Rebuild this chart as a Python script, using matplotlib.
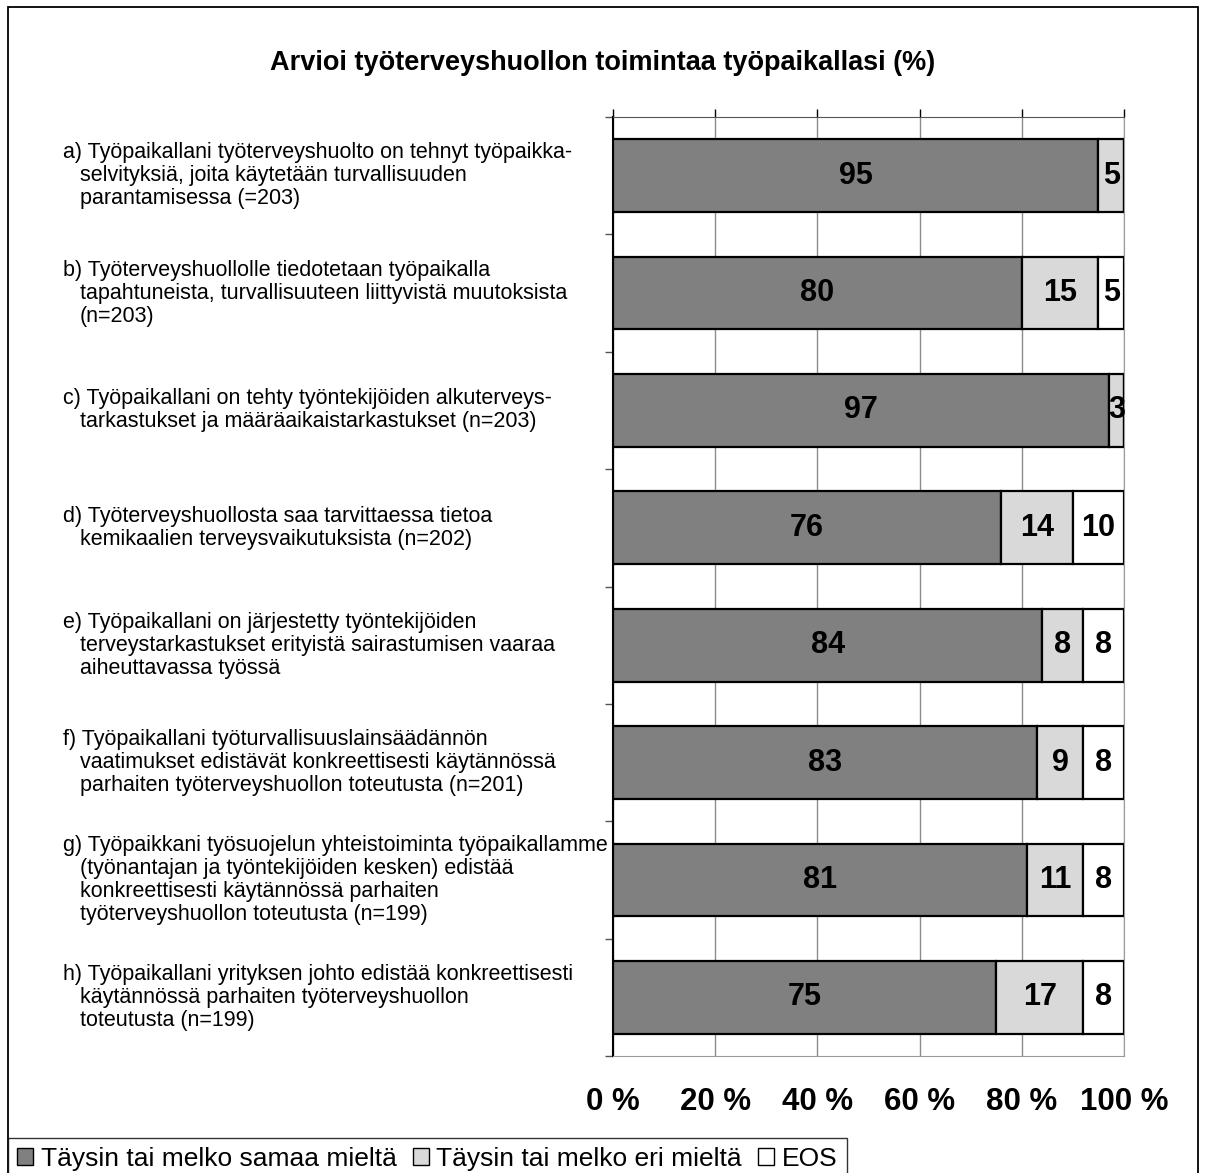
import matplotlib
matplotlib.use("Agg")
import matplotlib.pyplot as plt
from matplotlib.patches import Rectangle, Patch

plt.rcParams['font.family'] = ['Liberation Sans', 'DejaVu Sans']

# data
labels = [
    ["a) Työpaikallani työterveyshuolto on tehnyt työpaikka-",
     "selvityksiä, joita käytetään turvallisuuden",
     "parantamisessa (=203)"],
    ["b) Työterveyshuollolle tiedotetaan työpaikalla",
     "tapahtuneista, turvallisuuteen liittyvistä muutoksista",
     "(n=203)"],
    ["c) Työpaikallani on tehty työntekijöiden alkuterveys-",
     "tarkastukset ja määräaikaistarkastukset (n=203)"],
    ["d) Työterveyshuollosta saa tarvittaessa tietoa",
     "kemikaalien terveysvaikutuksista (n=202)"],
    ["e) Työpaikallani on järjestetty työntekijöiden",
     "terveystarkastukset erityistä sairastumisen vaaraa",
     "aiheuttavassa työssä"],
    ["f) Työpaikallani työturvallisuuslainsäädännön",
     "vaatimukset edistävät konkreettisesti käytännössä",
     "parhaiten työterveyshuollon toteutusta (n=201)"],
    ["g) Työpaikkani työsuojelun yhteistoiminta työpaikallamme",
     "(työnantajan ja työntekijöiden kesken) edistää",
     "konkreettisesti käytännössä parhaiten",
     "työterveyshuollon toteutusta (n=199)"],
    ["h) Työpaikallani yrityksen johto edistää konkreettisesti",
     "käytännössä parhaiten työterveyshuollon",
     "toteutusta (n=199)"],
]
agree = [95, 80, 97, 76, 84, 83, 81, 75]
disagree = [5, 15, 3, 14, 8, 9, 11, 17]
eos = [0, 5, 0, 10, 8, 8, 8, 8]
series_names = ["Täysin tai melko samaa mieltä", "Täysin tai melko eri mieltä", "EOS"]
colors = ["#808080", "#d9d9d9", "#ffffff"]
xticks = [0, 20, 40, 60, 80, 100]

W, H = 1207, 1173
fig = plt.figure(figsize=(W / 100, H / 100), dpi=100)

def fx(px):
    return px / W

def fy(py):
    return 1 - py / H

# outer frame
fig.patches.append(Rectangle((fx(8), fy(1190)), fx(1198) - fx(8), fy(7) - fy(1190),
                             transform=fig.transFigure, fill=False, edgecolor='black', lw=1.3))

ax = fig.add_axes([fx(613), fy(1056), fx(1124) - fx(613), fy(117) - fy(1056)])

n = len(agree)
ypos = list(range(n))
series = [agree, disagree, eos]
left = [0] * n
for vals, col in zip(series, colors):
    ax.barh(ypos, vals, left=left, height=0.62, color=col, edgecolor='black', lw=1.6, zorder=3)
    for i, v in enumerate(vals):
        if v > 0:
            ax.text(left[i] + v / 2, i, str(v), ha='center', va='center',
                    fontsize=22, fontweight='bold', zorder=4)
    left = [l + v for l, v in zip(left, vals)]

ax.set_xlim(0, 100)
ax.set_ylim(n - 0.5, -0.5)
ax.set_xticks(xticks)
ax.set_xticklabels([f"{t} %" for t in xticks], fontsize=22.5, fontweight='bold')
ax.tick_params(axis='x', bottom=False, top=True, labelbottom=True, labeltop=False,
               direction='out', length=6, width=1, pad=16, color='black')
ax.set_yticks([i + 0.5 for i in range(-1, n)])
ax.set_yticklabels([])
ax.tick_params(axis='y', left=True, direction='out', length=6, width=1, color='#555555')
ax.grid(axis='x', color='#8c8c8c', lw=1, zorder=0)
for s in ['bottom', 'right']:
    ax.spines[s].set_color('#9a9a9a')
ax.spines['left'].set_color('black')
ax.spines['left'].set_linewidth(1.5)
ax.spines['top'].set_color('#555555')

# category labels
slot = (1056 - 117) / n
for i, lines in enumerate(labels):
    cy = 117 + slot * (i + 0.5)
    m = len(lines)
    for j, line in enumerate(lines):
        y = cy + (j - (m - 1) / 2) * 23
        x = 63 if j == 0 else 80
        fig.text(fx(x), fy(y), line, ha='left', va='center', fontsize=15.5)

fig.text(fx(603), fy(63), "Arvioi työterveyshuollon toimintaa työpaikallasi (%)",
         ha='center', va='center', fontsize=19.5, fontweight='bold')

handles = [Patch(facecolor=c, edgecolor='black', lw=1) for c in colors]
leg = fig.legend(handles, series_names, loc='lower left', bbox_to_anchor=(fx(8), -0.006),
                 ncol=3, fontsize=19, frameon=True, fancybox=False, edgecolor='black',
                 handlelength=0.6, handleheight=0.6, handletextpad=0.3, columnspacing=0.6,
                 borderpad=0.35, borderaxespad=0)
leg.get_frame().set_linewidth(1)

fig.savefig("out.png", dpi=100)
